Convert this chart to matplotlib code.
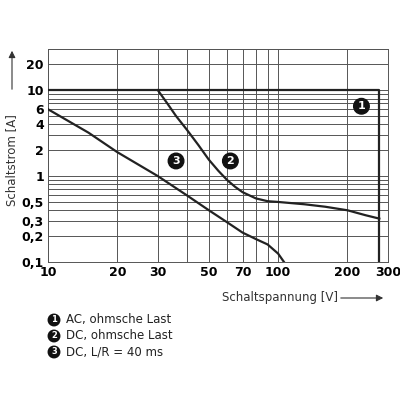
import matplotlib
matplotlib.use("Agg")
import matplotlib.pyplot as plt
from matplotlib.ticker import FixedLocator, FixedFormatter, NullFormatter

c1_x = [10, 275, 275]
c1_y = [10, 10, 0.1]
c2_x = [30, 33, 36, 40, 45, 50, 55, 60, 65, 70, 80, 90, 100, 130, 160, 200, 240, 275]
c2_y = [10, 7, 5, 3.5, 2.3, 1.55, 1.15, 0.9, 0.75, 0.65, 0.55, 0.51, 0.5, 0.47, 0.44, 0.4, 0.35, 0.32]
c3_x = [10, 15, 20, 30, 40, 50, 60, 70, 80, 90, 100, 106]
c3_y = [6, 3.2, 1.9, 1.0, 0.6, 0.4, 0.29, 0.22, 0.185, 0.16, 0.125, 0.1]
xticks = [10, 20, 30, 50, 70, 100, 200, 300]
xtick_labels = ["10", "20", "30", "50", "70", "100", "200", "300"]
yticks = [0.1, 0.2, 0.3, 0.5, 1, 2, 4, 6, 10, 20]
ytick_labels = ["0,1", "0,2", "0,3", "0,5", "1", "2", "4", "6", "10", "20"]
xgrid = [10, 20, 30, 40, 50, 60, 70, 80, 90, 100, 200, 300]
ygrid = [0.1, 0.2, 0.3, 0.4, 0.5, 0.6, 0.7, 0.8, 0.9, 1, 2, 3, 4, 5, 6, 7, 8, 9, 10, 20, 30]
markers = [("1", 230, 6.5), ("2", 62, 1.5), ("3", 36, 1.5)]
legend_lines = ["AC, ohmsche Last", "DC, ohmsche Last", "DC, L/R = 40 ms"]

fig = plt.figure(figsize=(4, 4), dpi=100)
ax = fig.add_axes([0.12, 0.345, 0.85, 0.532])
ax.set_xscale("log"); ax.set_yscale("log")
ax.set_xlim(10, 300); ax.set_ylim(0.1, 30)
for g in xgrid:
    ax.axvline(g, color="#555", lw=0.7, zorder=1)
for g in ygrid:
    ax.axhline(g, color="#555", lw=0.7, zorder=1)
for s in ax.spines.values():
    s.set_color("#555"); s.set_linewidth(0.7)
ax.xaxis.set_major_locator(FixedLocator(xticks))
ax.xaxis.set_major_formatter(FixedFormatter(xtick_labels))
ax.yaxis.set_major_locator(FixedLocator(yticks))
ax.yaxis.set_major_formatter(FixedFormatter(ytick_labels))
ax.xaxis.set_minor_formatter(NullFormatter()); ax.yaxis.set_minor_formatter(NullFormatter())
ax.tick_params(which="both", length=0, labelsize=9, pad=3)
for l in ax.get_xticklabels() + ax.get_yticklabels():
    l.set_fontweight("bold")
for xs, ys in [(c1_x, c1_y), (c2_x, c2_y), (c3_x, c3_y)]:
    ax.plot(xs, ys, color="#222", lw=1.6, zorder=3)
for t, x, y in markers:
    ax.text(x, y, t, ha="center", va="center", color="white", fontsize=8, fontweight="bold", zorder=5,
            bbox=dict(boxstyle="circle,pad=0.25", fc="#111", ec="#111"))
fig.text(0.03, 0.6, "Schaltstrom [A]", rotation=90, ha="center", va="center", fontsize=8.5, color="#333")
ax.annotate("", xy=(0.03, 0.88), xytext=(0.03, 0.77), xycoords="figure fraction",
            arrowprops=dict(arrowstyle="-|>", color="#333", lw=0.8))
fig.text(0.555, 0.255, "Schaltspannung [V]", ha="left", va="center", fontsize=8.5, color="#333")
ax.annotate("", xy=(0.965, 0.255), xytext=(0.845, 0.255), xycoords="figure fraction",
            arrowprops=dict(arrowstyle="-|>", color="#333", lw=0.8))
for i, s in enumerate(legend_lines):
    y = 0.2 - i * 0.04
    fig.text(0.135, y, str(i + 1), ha="center", va="center", color="white", fontsize=6, fontweight="bold",
             bbox=dict(boxstyle="circle,pad=0.15", fc="#111", ec="#111"))
    fig.text(0.165, y, s, ha="left", va="center", fontsize=8.5, color="#222")
fig.savefig("out.png")
